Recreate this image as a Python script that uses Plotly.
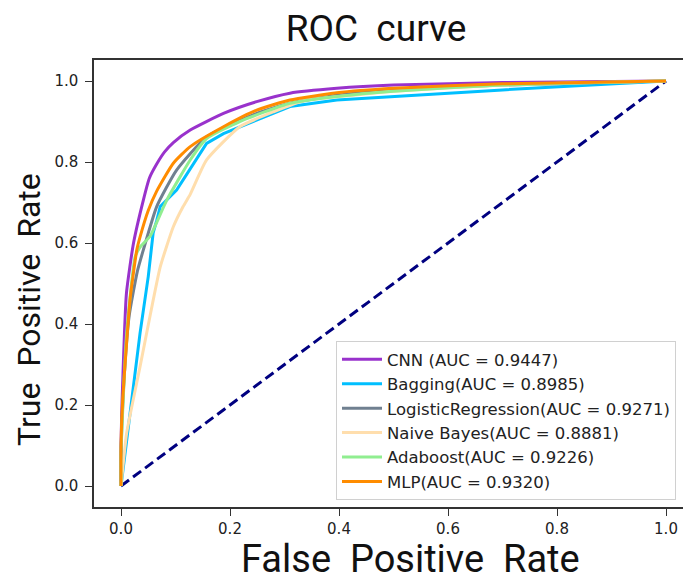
import plotly.graph_objects as go

# ---- data ----
labels = ["CNN (AUC = 0.9447)", "Bagging(AUC = 0.8985)", "LogisticRegression(AUC = 0.9271)",
          "Naive Bayes(AUC = 0.8881)", "Adaboost(AUC = 0.9226)", "MLP(AUC = 0.9320)"]
colors = ["#9932CC", "#00BFFF", "#708090", "#FFDEAD", "#90EE90", "#FF8C00"]

cnn_fpr = [0, 0, 0.002, 0.01, 0.023, 0.041, 0.052, 0.0655, 0.08, 0.096, 0.127, 0.188, 0.249, 0.31, 0.396, 0.5, 0.7, 1.0]
cnn_tpr = [0, 0.1, 0.21, 0.476, 0.6, 0.706, 0.76, 0.795, 0.825, 0.848, 0.879, 0.92, 0.949, 0.97, 0.982, 0.99, 0.996, 1.0]

bag_fpr = [0, 0.035, 0.05, 0.059, 0.0655, 0.072, 0.102, 0.157, 0.188, 0.249, 0.31, 0.396, 0.7, 1.0]
bag_tpr = [0, 0.378, 0.517, 0.625, 0.655, 0.69, 0.731, 0.846, 0.87, 0.904, 0.937, 0.953, 0.978, 1.0]

lr_fpr = [0, 0, 0.005, 0.015, 0.03, 0.041, 0.0655, 0.102, 0.157, 0.249, 0.31, 0.396, 0.5, 0.7, 1.0]
lr_tpr = [0, 0.08, 0.25, 0.42, 0.53, 0.583, 0.69, 0.78, 0.862, 0.92, 0.945, 0.965, 0.978, 0.99, 1.0]

nb_fpr = [0, 0.0104, 0.035, 0.053, 0.072, 0.096, 0.114, 0.127, 0.157, 0.218, 0.28, 0.34, 0.396, 0.5, 0.7, 1.0]
nb_tpr = [0, 0.131, 0.295, 0.418, 0.541, 0.64, 0.69, 0.72, 0.805, 0.887, 0.924, 0.953, 0.961, 0.975, 0.99, 1.0]

ada_fpr = [0, 0, 0.0104, 0.026, 0.035, 0.053, 0.084, 0.127, 0.157, 0.218, 0.31, 0.396, 0.5, 0.7, 1.0]
ada_tpr = [0, 0.08, 0.378, 0.566, 0.59, 0.616, 0.706, 0.805, 0.858, 0.9, 0.945, 0.962, 0.975, 0.99, 1.0]

mlp_fpr = [0, 0, 0.003, 0.0165, 0.029, 0.035, 0.05, 0.0655, 0.096, 0.127, 0.188, 0.249, 0.31, 0.396, 0.5, 0.7, 1.0]
mlp_tpr = [0, 0.1, 0.21, 0.459, 0.583, 0.615, 0.68, 0.728, 0.797, 0.838, 0.887, 0.928, 0.953, 0.971, 0.982, 0.993, 1.0]

diag_x = [0, 1]
diag_y = [0, 1]

tick_vals = [0.0, 0.2, 0.4, 0.6, 0.8, 1.0]
tick_text = ["0.0", "0.2", "0.4", "0.6", "0.8", "1.0"]

series = [(cnn_fpr, cnn_tpr), (bag_fpr, bag_tpr), (lr_fpr, lr_tpr),
          (nb_fpr, nb_tpr), (ada_fpr, ada_tpr), (mlp_fpr, mlp_tpr)]
shapes_ = ["spline", "linear", "spline", "spline", "spline", "spline"]

fig = go.Figure()
fig.add_trace(go.Scatter(x=diag_x, y=diag_y, mode="lines", showlegend=False,
                         line=dict(color="navy", width=3, dash="10px,5px")))
for i, ((fx, ty), name, col, shp) in enumerate(zip(series, labels, colors, shapes_)):
    fig.add_trace(go.Scatter(x=fx, y=ty, mode="lines", name=name, legendgroup=f"g{i}",
                             line=dict(color=col, width=3, shape=shp,
                                       smoothing=0.5 if shp == "spline" else None)))

W, H = 683, 576
L, R, T, B = 94, 0, 60, 69
PW, PH = W - L - R, H - T - B
fig.update_layout(
    width=W, height=H,
    margin=dict(l=L, r=R, t=T, b=B),
    plot_bgcolor="white", paper_bgcolor="white",
    font=dict(family="DejaVu Sans", color="#222"),
    title=dict(text="ROC\u00a0\u00a0curve", x=376 / W, xanchor="center", y=1 - 28 / H, yanchor="middle",
               xref="container", yref="container",
               font=dict(family="Roboto", size=37, color="#111")),
    legend=dict(x=(336 - L) / PW, y=(507 - 341) / PH, xanchor="left", yanchor="top",
                bgcolor="rgba(255,255,255,0.85)", bordercolor="#d0d0d0", borderwidth=1,
                font=dict(family="DejaVu Sans", size=16.5, color="#222"),
                itemwidth=40, tracegroupgap=0),
    showlegend=True,
)
fig.update_xaxes(range=[(94 - 121) / 545, (683 - 121) / 545], tickvals=tick_vals, ticktext=tick_text,
                 showgrid=False, zeroline=False, showline=True, linecolor="#333", linewidth=1.5,
                 mirror=True, ticks="outside", ticklen=7, tickcolor="#333",
                 tickfont=dict(family="DejaVu Sans", size=15, color="#222"))
fig.update_yaxes(range=[-21 / 405, 1 + 21 / 405], tickvals=tick_vals, ticktext=tick_text,
                 showgrid=False, zeroline=False, showline=True, linecolor="#333", linewidth=1.5,
                 mirror=False, ticks="outside", ticklen=7, tickcolor="#333", ticklabelstandoff=4,
                 tickfont=dict(family="DejaVu Sans", size=15, color="#222"))

fig.add_annotation(text="False\u00a0 Positive\u00a0 Rate", xref="paper", yref="paper",
                   x=(410 - L) / PW, y=(507 - 559) / PH, xanchor="center", yanchor="middle",
                   showarrow=False, font=dict(family="Roboto", size=38, color="#111"))
fig.add_annotation(text="True\u00a0 Positive\u00a0 Rate", xref="paper", yref="paper",
                   x=(29 - L) / PW, y=(507 - 310) / PH, xanchor="center", yanchor="middle",
                   textangle=-90, showarrow=False, font=dict(family="Roboto", size=32, color="#111"))

fig.write_html("out.html")
